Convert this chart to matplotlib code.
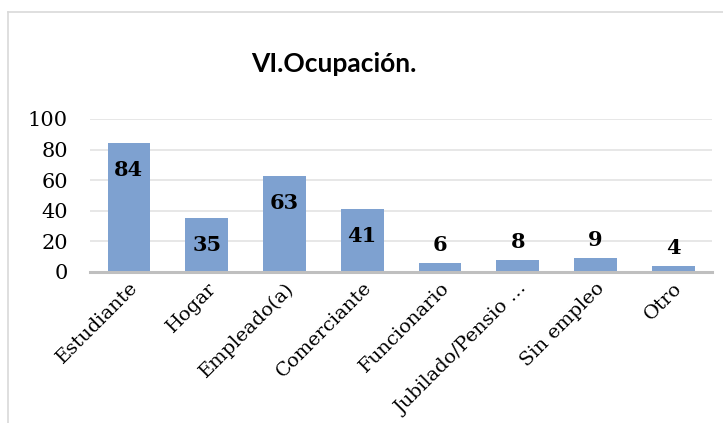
import matplotlib.pyplot as plt
from matplotlib.lines import Line2D

categories = ['Estudiante', 'Hogar', 'Empleado(a)', 'Comerciante', 'Funcionario',
              'Jubilado/Pensio …', 'Sin empleo', 'Otro']
values = [84, 35, 63, 41, 6, 8, 9, 4]
yticks = [0, 20, 40, 60, 80, 100]

fig = plt.figure(figsize=(7.23, 4.23), dpi=100)
ax = fig.add_axes([0.1245, 0.357, 0.8605, 0.3617])

x = range(len(categories))
ax.bar(x, values, width=0.55, color='#7ea1d0', zorder=3)

# etiquetas: dentro de la barra si cabe, encima si no
for i, v in enumerate(values):
    dy = -27 if v > 20 else 18
    ax.annotate(str(v), (i, v), xytext=(0, dy), textcoords='offset pixels',
                ha='center', va='center', fontsize=15, fontweight='bold',
                family='DejaVu Serif', color='black', zorder=4)

ax.set_xlim(-0.5, len(categories) - 0.5)
ax.set_ylim(0, 100)
ax.set_yticks(yticks)
ax.set_yticklabels([str(t) for t in yticks], family='DejaVu Serif', fontsize=15)
ax.set_xticks(list(x))
ax.set_xticklabels(categories, rotation=45, ha='right', rotation_mode='anchor',
                   family='DejaVu Serif', fontsize=14)
ax.tick_params(axis='both', length=0)
ax.tick_params(axis='x', pad=5)
ax.tick_params(axis='y', pad=16)
ax.grid(axis='y', color='#e3e3e3', linewidth=1.2, zorder=0)
for s in ['top', 'right', 'left']:
    ax.spines[s].set_visible(False)
ax.spines['bottom'].set_color('#bfbfbf')
ax.spines['bottom'].set_linewidth(2.2)
ax.spines['bottom'].set_zorder(5)

fig.text(0.462, 0.848, 'VI.Ocupación.', ha='center', va='center',
         family='Lato', fontweight='bold', fontsize=19)

# marco del gráfico
fig.add_artist(Line2D([8 / 723, 8 / 723], [0, 1 - 12 / 423], color='#d9d9d9', linewidth=1.2))
fig.add_artist(Line2D([8 / 723, 1], [1 - 12 / 423, 1 - 12 / 423], color='#d9d9d9', linewidth=1.2))

plt.savefig('out.png', dpi=100)
